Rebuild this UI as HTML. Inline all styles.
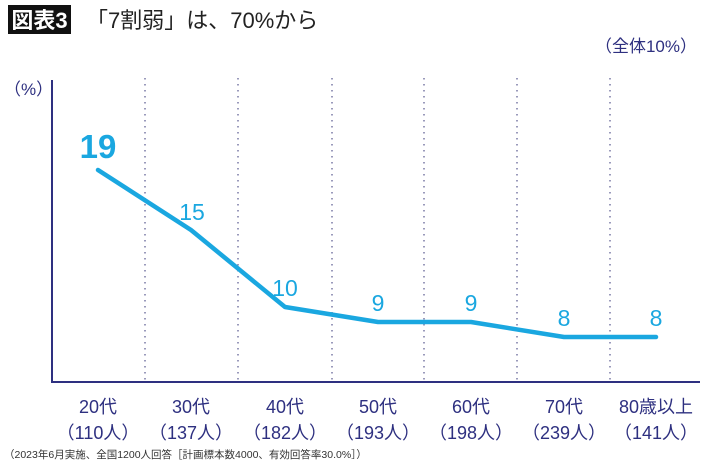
<!DOCTYPE html>
<html><head><meta charset="utf-8"><style>
body{margin:0;width:710px;height:463px;background:#fff;overflow:hidden;font-family:"Liberation Sans","Noto Sans CJK JP",sans-serif;}
</style></head><body>
<svg width="710" height="463" xmlns="http://www.w3.org/2000/svg" style="font-family:'Liberation Sans','Noto Sans CJK JP',sans-serif">
<rect x="8" y="5" width="63" height="29" fill="#111"/>
<text x="39.5" y="28" font-size="22" fill="#fff" text-anchor="middle" font-weight="bold">図表3</text>
<text x="86" y="28" font-size="22" fill="#222">「7割弱」は、70%から</text>
<text x="697" y="52" font-size="17" fill="#2e3080" text-anchor="end">（全体10%）</text>
<text x="4" y="95" font-size="17" fill="#2e3080">（%）</text>
<g stroke="#9a9abb" stroke-width="2" stroke-dasharray="1.5,4.5">
<line x1="145" y1="78" x2="145" y2="380"/><line x1="238" y1="78" x2="238" y2="380"/>
<line x1="332" y1="78" x2="332" y2="380"/><line x1="424" y1="78" x2="424" y2="380"/>
<line x1="517" y1="78" x2="517" y2="380"/><line x1="610" y1="78" x2="610" y2="380"/>
</g>
<polyline points="52,80 52,382 700,382" fill="none" stroke="#2e3080" stroke-width="2"/>
<polyline points="98,170 191,230 285,307 378,322 471,322 564,337 656,337" fill="none" stroke="#1aa7e0" stroke-width="4.5" stroke-linecap="round" stroke-linejoin="round"/>
<g fill="#1aa7e0" text-anchor="middle">
<text x="98" y="158" font-size="33" font-weight="bold">19</text>
<text x="192" y="220" font-size="23">15</text>
<text x="285" y="296" font-size="23">10</text>
<text x="378" y="311" font-size="23">9</text>
<text x="471" y="311" font-size="23">9</text>
<text x="564" y="326" font-size="23">8</text>
<text x="656" y="326" font-size="23">8</text>
</g>
<g fill="#2e3080" font-size="18" text-anchor="middle">
<text x="98" y="413">20代</text><text x="98" y="439">（110人）</text>
<text x="191" y="413">30代</text><text x="191" y="439">（137人）</text>
<text x="285" y="413">40代</text><text x="285" y="439">（182人）</text>
<text x="378" y="413">50代</text><text x="378" y="439">（193人）</text>
<text x="471" y="413">60代</text><text x="471" y="439">（198人）</text>
<text x="564" y="413">70代</text><text x="564" y="439">（239人）</text>
<text x="656" y="413">80歳以上</text><text x="656" y="439">（141人）</text>
</g>
<text x="4" y="458" font-size="10.5" fill="#333">（2023年6月実施、全国1200人回答［計画標本数4000、有効回答率30.0%］）</text>
</svg>
</body></html>
